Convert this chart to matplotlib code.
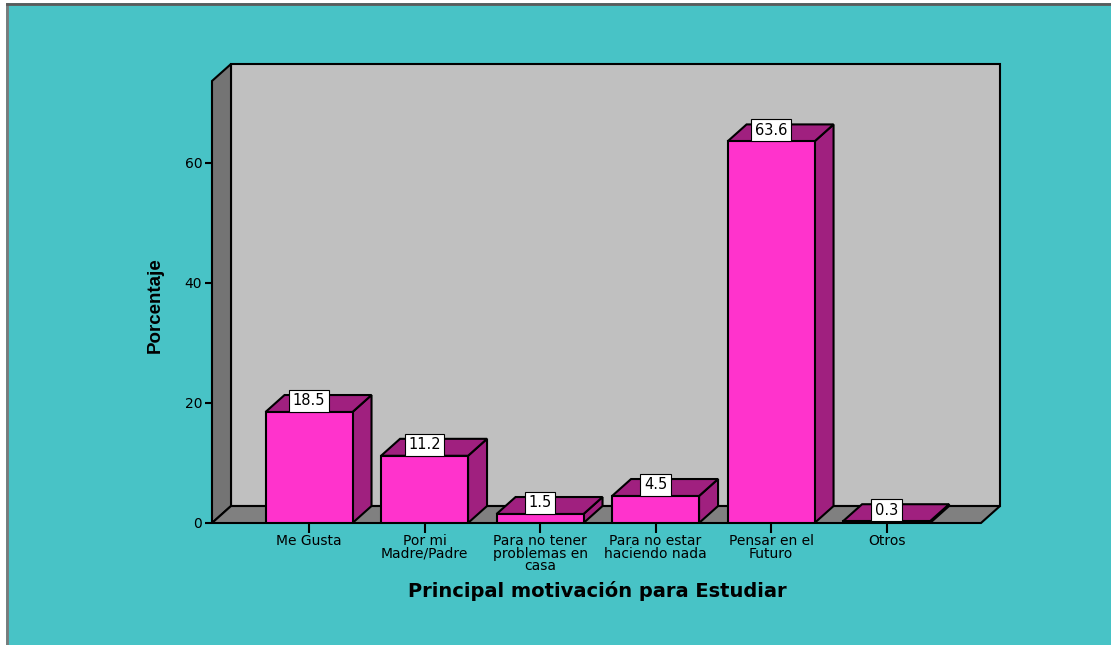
import numpy as np
import matplotlib
matplotlib.use('Agg')
import matplotlib.pyplot as plt
from matplotlib.patches import Polygon, Rectangle


# - - - - - - - - - - - - - - - - - - - - - - - - - - - - - - - - -
# DATA
# - - - - - - - - - - - - - - - - - - - - - - - - - - - - - - - - -

categories = ['Me Gusta', 'Por mi\nMadre/Padre', 'Para no tener\nproblemas en\ncasa',
              'Para no estar\nhaciendo nada', 'Pensar en el\nFuturo', 'Otros']
values = [18.5, 11.2, 1.5, 4.5, 63.6, 0.3]
yticks = [0, 20, 40, 60]

# - - - - - - - - - - - - - - - - - - - - - - - - - - - - - - - - -
# STYLE
# - - - - - - - - - - - - - - - - - - - - - - - - - - - - - - - - -

BG = '#48C3C6'
WALL = '#C0C0C0'
SIDEWALL = '#747474'
FLOOR = '#808080'
FRONT = '#FF33CC'
SIDE = '#A0207F'

W, H = 1111, 645
XMIN, XMAX = -0.84, 5.982      # category units
YMIN, YMAX = 0, 76.5           # percent
DX, DY = 0.1645, 2.83          # depth offset in data units
YTOP = 73.67                   # front top of the frame
BARW = 0.753

fig = plt.figure(figsize=(W / 100, H / 100), dpi=100, facecolor=BG)

# white margin and gray border (left / top)
fig.add_artist(Rectangle((0, 0), 6 / W, 1, transform=fig.transFigure,
                         facecolor='white', edgecolor='none'))
fig.add_artist(Rectangle((0, 1 - 3 / H), 1, 3 / H, transform=fig.transFigure,
                         facecolor='white', edgecolor='none'))
fig.add_artist(plt.Line2D([7 / W, 7 / W], [0, 1 - 4 / H], transform=fig.transFigure,
                          color='#7a7a7a', lw=2))
fig.add_artist(plt.Line2D([7 / W, 1], [1 - 4 / H, 1 - 4 / H], transform=fig.transFigure,
                          color='#5a5a5a', lw=2))

ax = fig.add_axes([212 / W, (H - 523) / H, (1000 - 212) / W, (523 - 64) / H])
ax.set_xlim(XMIN, XMAX)
ax.set_ylim(YMIN, YMAX)
ax.patch.set_alpha(0)
for s in ax.spines.values():
    s.set_visible(False)

ec = dict(edgecolor='black', linewidth=1.5, joinstyle='miter')

# back wall
ax.add_patch(Polygon([(XMIN + DX, DY), (XMAX, DY), (XMAX, YMAX), (XMIN + DX, YMAX)],
                     closed=True, facecolor=WALL, clip_on=False, **ec))
# left side wall
ax.add_patch(Polygon([(XMIN, 0), (XMIN + DX, DY), (XMIN + DX, YMAX), (XMIN, YTOP)],
                     closed=True, facecolor=SIDEWALL, clip_on=False, **ec))
# floor
ax.add_patch(Polygon([(XMIN, 0), (XMAX - DX, 0), (XMAX, DY), (XMIN + DX, DY)],
                     closed=True, facecolor=FLOOR, clip_on=False, **ec))

# bars: side + top faces, then the front face
x = np.arange(len(values))
for i, v in zip(x, values):
    l, r = i - BARW / 2, i + BARW / 2
    ax.add_patch(Polygon([(r, 0), (r + DX, DY), (r + DX, v + DY), (r, v)],
                         closed=True, facecolor=SIDE, clip_on=False, **ec))
    ax.add_patch(Polygon([(l, v), (r, v), (r + DX, v + DY), (l + DX, v + DY)],
                         closed=True, facecolor=SIDE, clip_on=False, **ec))
ax.bar(x, values, width=BARW, color=FRONT, edgecolor='black', linewidth=1.5, zorder=3)

for i, v in zip(x, values):
    ax.annotate(f'{v:.1f}', xy=(i, v), xytext=(0, 2.6), textcoords='offset points',
                ha='center', va='bottom', fontsize=10.5, family='DejaVu Sans', zorder=5,
                bbox=dict(boxstyle='square,pad=0.25', facecolor='white',
                          edgecolor='black', linewidth=0.8))

ax.set_xticks(x)
ax.set_xticklabels(categories, fontsize=10, linespacing=0.88)
ax.set_yticks(yticks)
ax.set_yticklabels([str(t) for t in yticks], fontsize=10)
ax.tick_params(axis='x', length=7, width=1.5, pad=1)
ax.tick_params(axis='y', length=5, width=1.5, pad=2)

ax.set_ylabel('Porcentaje', fontsize=13.5, fontweight='bold', family='Liberation Sans')
ax.yaxis.set_label_coords(-0.061, 0.475)
fig.text(597 / W, 1 - 591 / H, 'Principal motivación para Estudiar', ha='center', va='center',
         fontsize=14, fontweight='bold')

fig.savefig('out.png', dpi=100, facecolor=BG)
